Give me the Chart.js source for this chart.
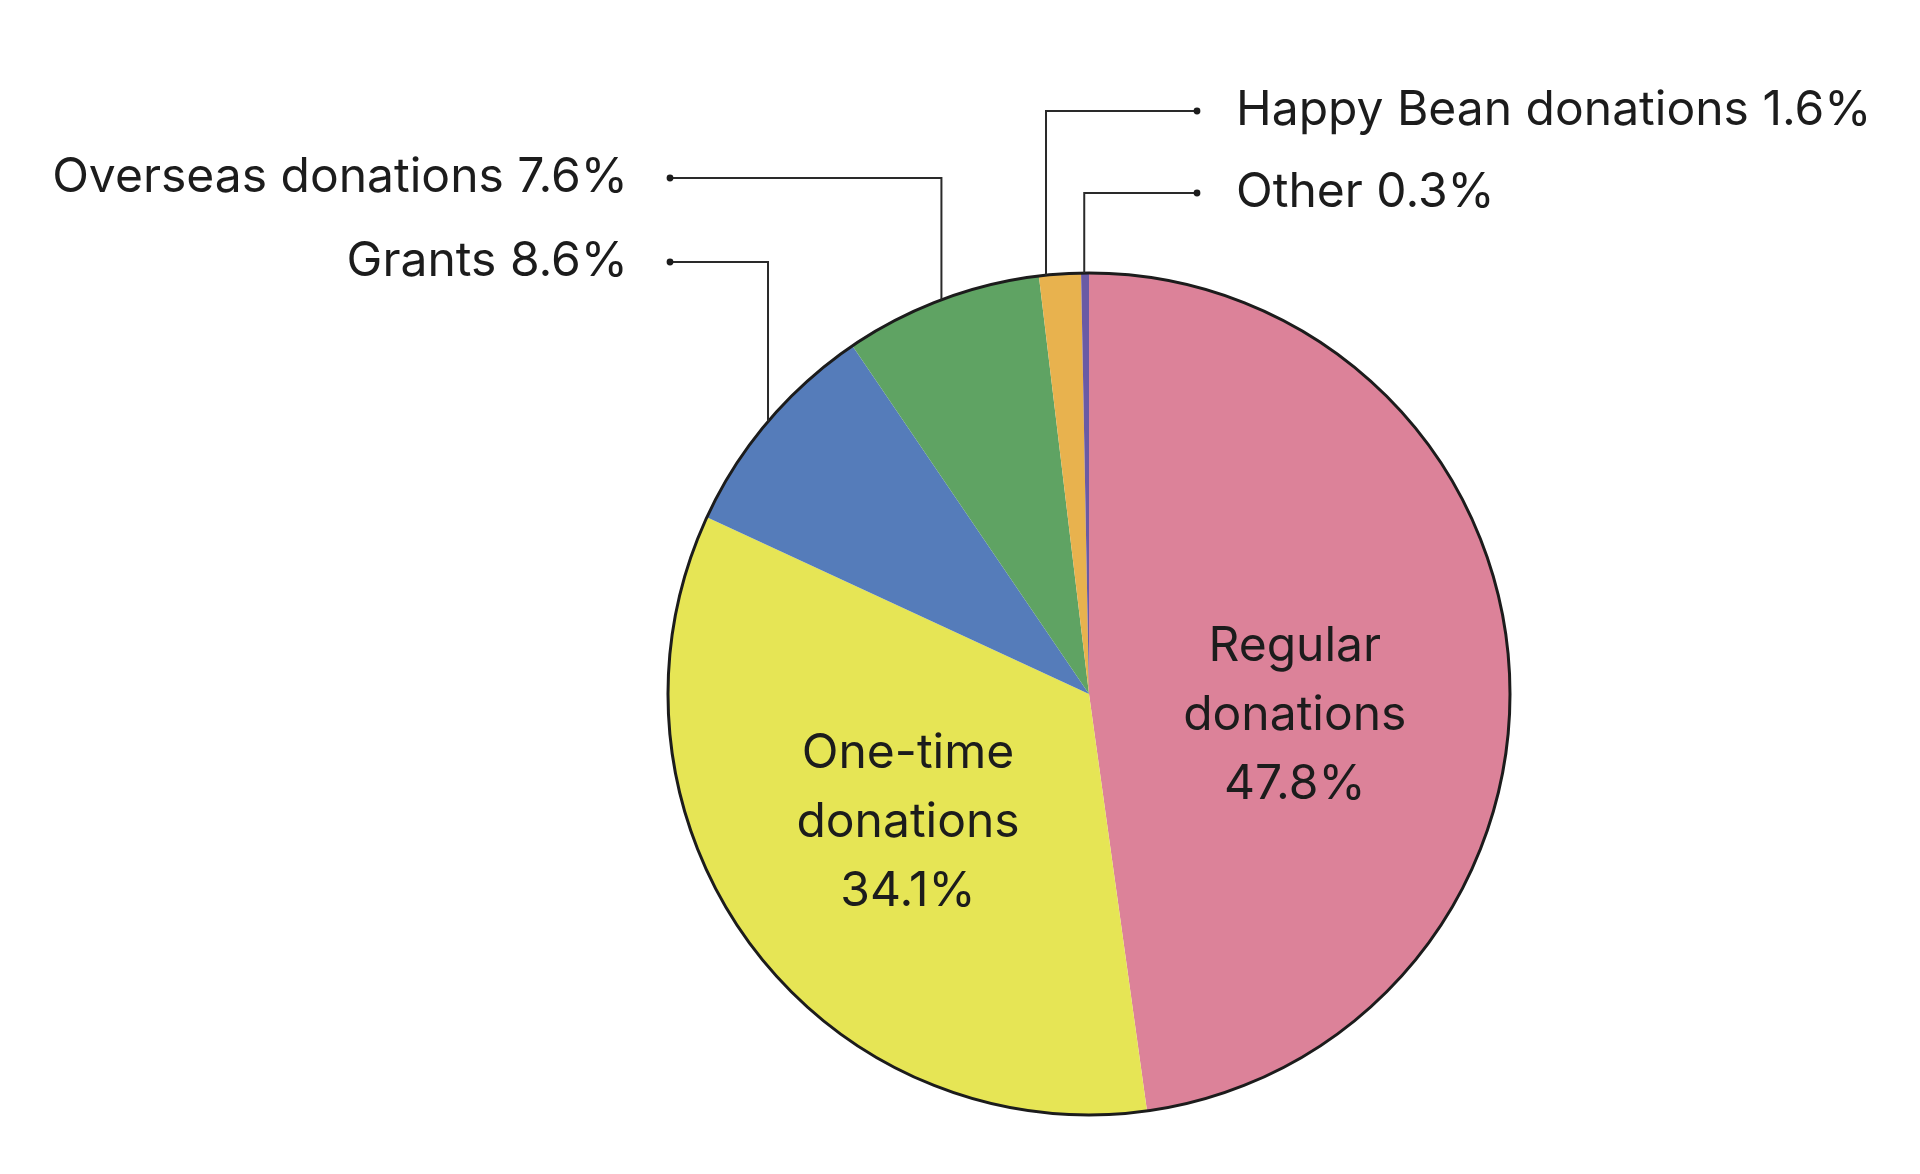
<!DOCTYPE html>
<html>
<head>
<meta charset="utf-8">
<script src="https://cdn.jsdelivr.net/npm/chart.js@4"></script>
<style>
  html, body { margin: 0; padding: 0; background: #fff; }
  #wrap { width: 1920px; height: 1174px; position: relative; }
</style>
</head>
<body>
<div id="wrap"><canvas id="chart"></canvas></div>
<script>
const categories = ['Regular donations', 'One-time donations', 'Grants', 'Overseas donations', 'Happy Bean donations', 'Other'];
const shares = [47.8, 34.1, 8.6, 7.6, 1.6, 0.3];
const colors = ['#dc8299', '#e6e555', '#557cba', '#5fa363', '#e8b24e', '#6a5aa5'];

// slices labelled inside the pie, and the ones that get a leader line
const insideLabels = [
    { index: 0, lines: ['Regular', 'donations'], r: 0.49, dy: 36 },
    { index: 1, lines: ['One-time', 'donations'], r: 0.535, dy: -6 }
];
const outsideLabels = [
    { index: 2, side: 'left', rowY: -11, at: 0.5 },
    { index: 3, side: 'left', rowY: -95, at: 0.5 },
    { index: 4, side: 'right', rowY: -162, at: 0.17 },
    { index: 5, side: 'right', rowY: -80, at: 0.4 }
];

const FONT = '400 48px Inter';
const INK = '#1c1c1c';

const pieDecor = {
    id: 'pieDecor',
    afterDatasetsDraw(chart) {
        const ctx = chart.ctx;
        const arcs = chart.getDatasetMeta(0).data;
        const cx = arcs[0].x, cy = arcs[0].y, R = arcs[0].outerRadius;

        // outer rim only, no lines between slices
        ctx.save();
        ctx.beginPath();
        ctx.arc(cx, cy, R, 0, Math.PI * 2);
        ctx.lineWidth = 3;
        ctx.strokeStyle = INK;
        ctx.stroke();

        ctx.font = FONT;
        ctx.fillStyle = INK;
        ctx.textBaseline = 'middle';

        insideLabels.forEach(l => {
            const a = arcs[l.index];
            const mid = (a.startAngle + a.endAngle) / 2;
            const x = cx + Math.cos(mid) * R * l.r;
            const y = cy + Math.sin(mid) * R * l.r + l.dy;
            const text = l.lines.concat([shares[l.index].toFixed(1) + '%']);
            const lh = 69;
            ctx.textAlign = 'center';
            text.forEach((t, i) => ctx.fillText(t, x, y + (i - 1) * lh));
        });

        ctx.lineWidth = 2;
        ctx.strokeStyle = '#2a2a2a';
        outsideLabels.forEach(l => {
            const a = arcs[l.index];
            const ang = a.startAngle + (a.endAngle - a.startAngle) * l.at;
            const ex = cx + Math.cos(ang) * R;
            const ey = cy + Math.sin(ang) * R;
            const rowY = cy - R + l.rowY;
            const dotX = l.side === 'left' ? cx - R + 2 : cx + 108;
            ctx.beginPath();
            ctx.moveTo(ex, ey);
            ctx.lineTo(ex, rowY);
            ctx.lineTo(dotX, rowY);
            ctx.stroke();
            ctx.beginPath();
            ctx.arc(dotX, rowY, 3.4, 0, Math.PI * 2);
            ctx.fill();
            const label = categories[l.index] + ' ' + shares[l.index].toFixed(1) + '%';
            if (l.side === 'left') {
                ctx.textAlign = 'right';
                ctx.fillText(label, dotX - 42, rowY);
            } else {
                ctx.textAlign = 'left';
                ctx.fillText(label, dotX + 39, rowY);
            }
        });
        ctx.restore();
    }
};

function draw() {
    new Chart(document.getElementById('chart'), {
        type: 'pie',
        data: {
            labels: categories,
            datasets: [{
                data: shares,
                backgroundColor: colors,
                borderWidth: 0,
                hoverBorderWidth: 0,
                hoverOffset: 0
            }]
        },
        options: {
            responsive: true,
            maintainAspectRatio: false,
            devicePixelRatio: 1,
            animation: false,
            events: [],
            layout: { padding: { top: 273, bottom: 59, left: 668, right: 410 } },
            plugins: {
                legend: { display: false },
                tooltip: { enabled: false }
            }
        },
        plugins: [pieDecor]
    });
}

document.fonts.load(FONT).then(draw, draw);
</script>
</body>
</html>
